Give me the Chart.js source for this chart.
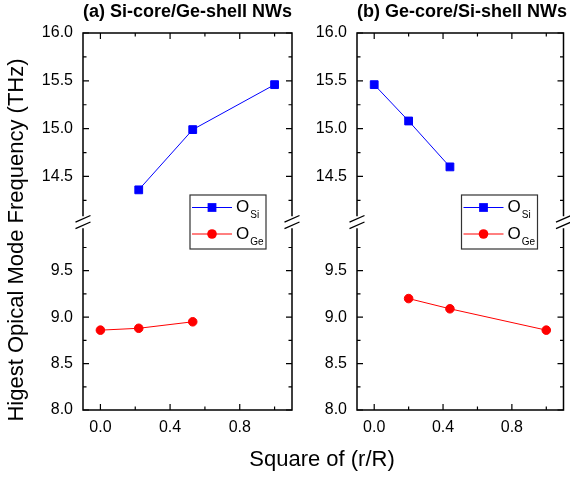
<!DOCTYPE html>
<html>
<head>
<meta charset="utf-8">
<script src="https://cdn.jsdelivr.net/npm/chart.js"></script>
<style>
  body { margin: 0; background: #fff; }
  #wrap { position: relative; width: 570px; height: 479px; overflow: hidden; font-family: "Liberation Sans", Arial, sans-serif; color: #000; }
  canvas { position: absolute; top: 0; }
  .ttl { position: absolute; top: 1px; width: 209px; text-align: center; font-weight: bold; font-size: 18px; line-height: 20px; white-space: nowrap; }
  #xtitle { position: absolute; left: 222px; top: 446px; width: 200px; text-align: center; font-size: 22px; line-height: 26px; white-space: nowrap; }
  #ytitle { position: absolute; left: -184px; top: 227px; width: 400px; height: 26px; text-align: center; font-size: 22px; line-height: 26px; white-space: nowrap; transform: rotate(-90deg); }
</style>
</head>
<body>
<div id="wrap">
  <canvas id="chartA" width="300" height="479" style="left:0"></canvas>
  <canvas id="chartB" width="270" height="479" style="left:300px"></canvas>
  <div class="ttl" style="left:83px">(a) Si-core/Ge-shell NWs</div>
  <div class="ttl" style="left:357px">(b) Ge-core/Si-shell NWs</div>
  <div id="xtitle">Square of (r/R)</div>
  <div id="ytitle">Higest Opical Mode Frequency (THz)</div>
</div>
<script>
// valores
const xTicks = [0.0, 0.4, 0.8];
const yTopTicks = [14.5, 15.0, 15.5, 16.0];
const yBotTicks = [8.0, 8.5, 9.0, 9.5];

// (a) Si-core/Ge-shell
const aSiX = [0.22, 0.53, 1.0];
const aSiY = [14.36, 14.99, 15.46];
const aGeX = [0.0, 0.22, 0.53];
const aGeY = [8.86, 8.88, 8.95];

// (b) Ge-core/Si-shell
const bSiX = [0.0, 0.2, 0.44];
const bSiY = [15.46, 15.08, 14.60];
const bGeX = [0.2, 0.44, 1.0];
const bGeY = [9.20, 9.09, 8.86];

const FONT = "'Liberation Sans', Arial, sans-serif";
Chart.defaults.font.family = FONT;
Chart.defaults.color = '#000';

function pontos(xs, ys) {
    return xs.map((x, i) => ({ x: x, y: ys[i] }));
}

function menores(majors, min, max) {
    const h = (majors[1] - majors[0]) / 2;
    const out = [];
    majors.forEach(m => {
        [m - h, m + h].forEach(v => {
            if (v > min + 1e-6 && v < max - 1e-6 && !out.some(o => Math.abs(o - v) < 1e-6)) out.push(v);
        });
    });
    return out;
}

// moldura, marcas internas e quebra do eixo
const moldura = {
    id: 'moldura',
    afterDraw(chart) {
        const { ctx, chartArea: a, scales } = chart;
        const xs = scales.x, yt = scales.yTop, yb = scales.yBot;
        const jy = (yt.bottom + yb.top) / 2;
        ctx.save();
        ctx.strokeStyle = '#000';
        ctx.lineWidth = 1.5;
        ctx.beginPath();
        ctx.moveTo(a.left - 0.75, a.top); ctx.lineTo(a.right + 0.75, a.top);
        ctx.moveTo(a.left - 0.75, a.bottom); ctx.lineTo(a.right + 0.75, a.bottom);
        [a.left, a.right].forEach(ex => {
            ctx.moveTo(ex, a.top); ctx.lineTo(ex, jy - 8);
            ctx.moveTo(ex, jy + 4); ctx.lineTo(ex, a.bottom);
        });
        ctx.stroke();

        // marcas
        ctx.lineWidth = 1.2;
        ctx.beginPath();
        const tickY = (sc, vals, len) => vals.forEach(v => {
            const p = sc.getPixelForValue(v);
            ctx.moveTo(a.left, p); ctx.lineTo(a.left + len, p);
            ctx.moveTo(a.right, p); ctx.lineTo(a.right - len, p);
        });
        const tickX = (vals, len) => vals.forEach(v => {
            const p = xs.getPixelForValue(v);
            ctx.moveTo(p, a.bottom); ctx.lineTo(p, a.bottom - len);
            ctx.moveTo(p, a.top); ctx.lineTo(p, a.top + len);
        });
        tickY(yt, yTopTicks, 6);
        tickY(yt, menores(yTopTicks, yt.min, yt.max), 3.5);
        tickY(yb, yBotTicks, 6);
        tickY(yb, menores(yBotTicks, yb.min, yb.max), 3.5);
        tickX(xTicks, 6);
        tickX(menores(xTicks, xs.min, xs.max), 3.5);
        ctx.stroke();

        // quebra //
        ctx.lineWidth = 1.3;
        ctx.beginPath();
        [a.left, a.right].forEach(ex => {
            [jy - 5.5, jy + 1].forEach(c => {
                ctx.moveTo(ex - 7.5, c + 3.3);
                ctx.lineTo(ex + 7.5, c - 3.3);
            });
        });
        ctx.stroke();
        ctx.restore();
    }
};

// legenda com subscrito
const legenda = {
    id: 'legenda',
    afterDraw(chart) {
        const { ctx, chartArea: a } = chart;
        const bx = a.right - 102, by = a.top + 162, bw = 76, bh = 54;
        ctx.save();
        ctx.fillStyle = '#fff';
        ctx.fillRect(bx, by, bw, bh);
        ctx.strokeStyle = '#333';
        ctx.lineWidth = 1.2;
        ctx.strokeRect(bx, by, bw, bh);
        const itens = [
            { ds: chart.data.datasets[0], sub: 'Si', y: by + 12.5 },
            { ds: chart.data.datasets[1], sub: 'Ge', y: by + 39 }
        ];
        itens.forEach(it => {
            const cor = it.ds.borderColor;
            ctx.strokeStyle = cor;
            ctx.lineWidth = 1;
            ctx.beginPath();
            ctx.moveTo(bx + 2, it.y); ctx.lineTo(bx + 42, it.y);
            ctx.stroke();
            ctx.fillStyle = cor;
            ctx.beginPath();
            if (it.ds.pointStyle === 'rect') {
                const s = it.ds.pointRadius * Math.SQRT1_2 + 0.5;
                ctx.rect(bx + 22 - s, it.y - s, 2 * s, 2 * s);
            } else {
                ctx.arc(bx + 22, it.y, it.ds.pointRadius + 0.5, 0, Math.PI * 2);
            }
            ctx.fill();
            ctx.fillStyle = '#000';
            ctx.textBaseline = 'middle';
            ctx.textAlign = 'left';
            ctx.font = '17px ' + FONT;
            ctx.fillText('O', bx + 46, it.y);
            const w = ctx.measureText('O').width;
            ctx.font = '10px ' + FONT;
            ctx.fillText(it.sub, bx + 46 + w + 1, it.y + 8);
        });
        ctx.restore();
    }
};

function fazerPainel(id, siX, siY, geX, geY, larguraY, padDir) {
    const ctx = document.getElementById(id).getContext('2d');
    const eixoY = (min, max, peso, ticks) => ({
        type: 'linear',
        position: 'left',
        stack: 'y',
        stackWeight: peso,
        min: min,
        max: max,
        grid: { display: false, drawTicks: false },
        border: { display: false },
        afterBuildTicks: s => { s.ticks = ticks.map(v => ({ value: v })); },
        afterFit: s => { s.width = larguraY; },
        ticks: { padding: 10, font: { size: 16 }, color: '#000', callback: v => v.toFixed(1) }
    });
    return new Chart(ctx, {
        type: 'line',
        data: {
            datasets: [
                {
                    label: 'OSi', data: pontos(siX, siY), yAxisID: 'yTop',
                    borderColor: '#0000ff', backgroundColor: '#0000ff', borderWidth: 1,
                    pointStyle: 'rect', pointRadius: 5.5, pointBorderWidth: 1
                },
                {
                    label: 'OGe', data: pontos(geX, geY), yAxisID: 'yBot',
                    borderColor: '#ff0000', backgroundColor: '#ff0000', borderWidth: 1,
                    pointStyle: 'circle', pointRadius: 4.3, pointBorderWidth: 1
                }
            ]
        },
        options: {
            responsive: false,
            animation: false,
            layout: { padding: { top: 33, right: padDir, left: 0, bottom: 0 } },
            plugins: { legend: { display: false }, tooltip: { enabled: false } },
            scales: {
                x: {
                    type: 'linear', min: -0.1, max: 1.1,
                    grid: { display: false, drawTicks: false },
                    border: { display: false },
                    afterBuildTicks: s => { s.ticks = xTicks.map(v => ({ value: v })); },
                    afterFit: s => { s.height = 69; },
                    ticks: { padding: 8, font: { size: 16 }, color: '#000', callback: v => v.toFixed(1) }
                },
                yBot: eixoY(8, 10, 1, yBotTicks),
                yTop: eixoY(14, 16, 1.03, yTopTicks)
            }
        },
        plugins: [moldura, legenda]
    });
}

fazerPainel('chartA', aSiX, aSiY, aGeX, aGeY, 83, 8);
fazerPainel('chartB', bSiX, bSiY, bGeX, bGeY, 57, 4);
</script>
</body>
</html>
